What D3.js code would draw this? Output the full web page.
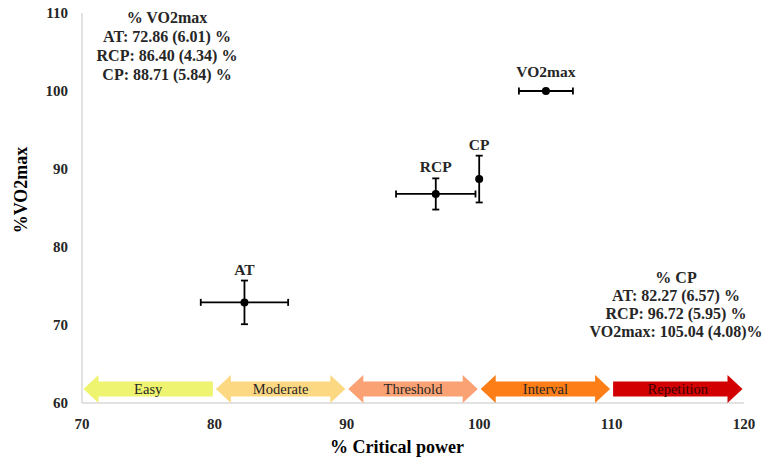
<!DOCTYPE html>
<html>
<head>
<meta charset="utf-8">
<script src="https://cdn.jsdelivr.net/npm/d3@7"></script>
<style>
  body { margin: 0; background: #fff; }
</style>
</head>
<body>
<div id="chart"></div>
<script>
// markers: % critical power (x) vs % VO2max (y), error bars as drawn
var names = ["AT", "RCP", "CP", "VO2max"];
var xVals = [82.27, 96.72, 100, 105.04];
var yVals = [72.9, 86.8, 88.71, 100];
var xErr = [3.3, 3.0, 0, 2.04];
var yErr = [2.8, 2.0, 3.0, 0];

var zones = ["Easy", "Moderate", "Threshold", "Interval", "Repetition"];
var zoneStart = [70, 80, 90, 100, 110];
var zoneEnd = [80, 90, 100, 110, 120];
var zoneDir = ["left", "both", "both", "both", "right"];
var zoneColors = ["#eef46f", "#fdd883", "#fba274", "#fd7d17", "#d20000"];

var xTicks = [70, 80, 90, 100, 110, 120];
var yTicks = [60, 70, 80, 90, 100, 110];

var noteVO2 = ["% VO2max", "AT: 72.86 (6.01) %", "RCP: 86.40 (4.34) %", "CP: 88.71 (5.84) %"];
var noteCP = ["% CP", "AT: 82.27 (6.57) %", "RCP: 96.72 (5.95) %", "VO2max: 105.04 (4.08)%"];

var dims = { width: 763, height: 461 };
var serif = "'Liberation Serif', 'DejaVu Serif', serif";

var x = d3.scaleLinear().domain([70, 120]).range([82, 744]);
var y = d3.scaleLinear().domain([60, 110]).range([403, 13]);

var svg = d3.select('#chart')
    .append('svg')
    .attr('width', dims.width)
    .attr('height', dims.height)
    .attr('font-family', serif);

// axis lines
svg.append('line')
    .attr('x1', x(70)).attr('x2', x(70))
    .attr('y1', y(110)).attr('y2', y(60))
    .attr('stroke', '#d9d9d9').attr('stroke-width', 1.5);
svg.append('line')
    .attr('x1', x(70)).attr('x2', x(120))
    .attr('y1', y(60)).attr('y2', y(60))
    .attr('stroke', '#d9d9d9').attr('stroke-width', 1.5);

// tick labels
svg.selectAll('.xt')
    .data(xTicks)
    .enter()
    .append('text')
    .attr('x', function(d){ return x(d); })
    .attr('y', 429)
    .attr('text-anchor', 'middle')
    .attr('font-size', 15)
    .attr('font-weight', 'bold')
    .attr('fill', '#262626')
    .text(function(d){ return d; });

svg.selectAll('.yt')
    .data(yTicks)
    .enter()
    .append('text')
    .attr('x', 68)
    .attr('y', function(d){ return y(d) + 5; })
    .attr('text-anchor', 'end')
    .attr('font-size', 15)
    .attr('font-weight', 'bold')
    .attr('fill', '#262626')
    .text(function(d){ return d; });

// axis titles
svg.append('text')
    .attr('x', 397).attr('y', 453)
    .attr('text-anchor', 'middle')
    .attr('font-size', 18).attr('font-weight', 'bold')
    .text('% Critical power');

svg.append('text')
    .attr('transform', 'translate(27,190) rotate(-90)')
    .attr('text-anchor', 'middle')
    .attr('font-size', 18).attr('font-weight', 'bold')
    .text('%VO2max');

// zone arrows
var cy = 389, headH = 14, bodyH = 7.5, headL = 15, pad = 1.5;
function arrowPath(i){
    var a = x(zoneStart[i]) + pad, b = x(zoneEnd[i]) - pad;
    var dir = zoneDir[i];
    var pts = [];
    if (dir === 'left' || dir === 'both') {
        pts.push([a, cy], [a + headL, cy - headH], [a + headL, cy - bodyH]);
    } else {
        pts.push([a, cy - bodyH]);
    }
    if (dir === 'right' || dir === 'both') {
        pts.push([b - headL, cy - bodyH], [b - headL, cy - headH], [b, cy],
                 [b - headL, cy + headH], [b - headL, cy + bodyH]);
    } else {
        pts.push([b, cy - bodyH], [b, cy + bodyH]);
    }
    if (dir === 'left' || dir === 'both') {
        pts.push([a + headL, cy + bodyH], [a + headL, cy + headH]);
    } else {
        pts.push([a, cy + bodyH]);
    }
    return d3.line()(pts) + 'Z';
}

var zg = svg.append('g').attr('id', 'zones');
zg.selectAll('path')
    .data(zones)
    .enter()
    .append('path')
    .attr('d', function(d, i){ return arrowPath(i); })
    .attr('fill', function(d, i){ return zoneColors[i]; });

zg.selectAll('text')
    .data(zones)
    .enter()
    .append('text')
    .attr('x', function(d, i){ return (x(zoneStart[i]) + x(zoneEnd[i])) / 2; })
    .attr('y', cy + 5)
    .attr('text-anchor', 'middle')
    .attr('font-size', 14.5)
    .attr('fill', function(d, i){ return i === 4 ? '#3a0000' : '#262626'; })
    .text(function(d){ return d; });

// error bars
var pts = svg.append('g').attr('id', 'points');
var cap = 3.5;
names.forEach(function(n, i){
    var px = x(xVals[i]), py = y(yVals[i]);
    if (xErr[i] > 0) {
        var l = x(xVals[i] - xErr[i]), r = x(xVals[i] + xErr[i]);
        pts.append('line').attr('x1', l).attr('x2', r).attr('y1', py).attr('y2', py)
            .attr('stroke', '#000').attr('stroke-width', 1.8);
        [l, r].forEach(function(e){
            pts.append('line').attr('x1', e).attr('x2', e).attr('y1', py - cap).attr('y2', py + cap)
                .attr('stroke', '#000').attr('stroke-width', 1.8);
        });
    }
    if (yErr[i] > 0) {
        var t = y(yVals[i] + yErr[i]), b = y(yVals[i] - yErr[i]);
        pts.append('line').attr('x1', px).attr('x2', px).attr('y1', t).attr('y2', b)
            .attr('stroke', '#000').attr('stroke-width', 1.8);
        [t, b].forEach(function(e){
            pts.append('line').attr('x1', px - cap).attr('x2', px + cap).attr('y1', e).attr('y2', e)
                .attr('stroke', '#000').attr('stroke-width', 1.8);
        });
    }
    pts.append('circle').attr('cx', px).attr('cy', py).attr('r', 4).attr('fill', '#000');

    var top = yErr[i] > 0 ? y(yVals[i] + yErr[i]) - 6 : py - 14;
    pts.append('text')
        .attr('x', px).attr('y', top)
        .attr('text-anchor', 'middle')
        .attr('font-size', 15.5).attr('font-weight', 'bold')
        .attr('fill', '#262626')
        .text(n);
});

// notes
svg.append('g').selectAll('text')
    .data(noteVO2)
    .enter()
    .append('text')
    .attr('x', 167)
    .attr('y', function(d, i){ return 23 + i * 19; })
    .attr('text-anchor', 'middle')
    .attr('font-size', 16).attr('font-weight', 'bold')
    .attr('fill', '#262626')
    .text(function(d){ return d; });

svg.append('g').selectAll('text')
    .data(noteCP)
    .enter()
    .append('text')
    .attr('x', 676)
    .attr('y', function(d, i){ return 283 + i * 18; })
    .attr('text-anchor', 'middle')
    .attr('font-size', 16).attr('font-weight', 'bold')
    .attr('fill', '#262626')
    .text(function(d){ return d; });
</script>
</body>
</html>
